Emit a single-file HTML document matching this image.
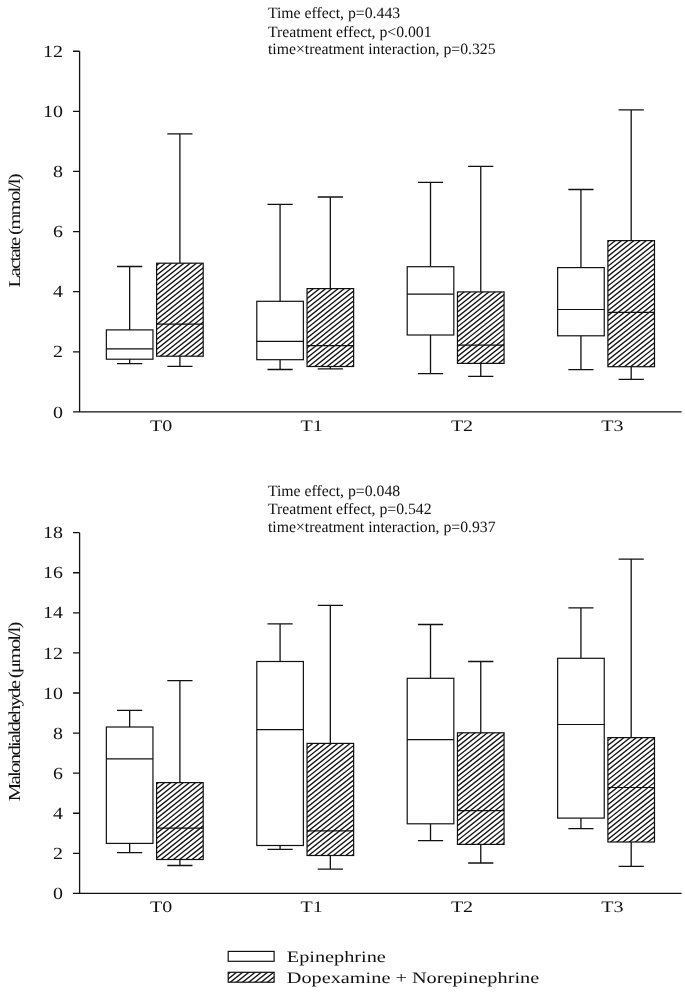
<!DOCTYPE html>
<html><head><meta charset="utf-8"><title>Figure</title>
<style>
html,body{margin:0;padding:0;background:#fff;}
svg{display:block;font-family:"Liberation Serif",serif;fill:#111;}
text{text-rendering:geometricPrecision;}
#t{opacity:0.999;}
</style></head><body>
<svg width="685" height="993" viewBox="0 0 685 993">
<rect width="685" height="993" fill="#fff"/>
<g id="t">
<path d="M79.6 51.23V411.95M73.0 411.95H681.6M73.0 351.83H79.6M73.0 291.71H79.6M73.0 231.59H79.6M73.0 171.47H79.6M73.0 111.35H79.6M73.0 51.23H79.6" stroke="#111" stroke-width="1.3" fill="none" stroke-linecap="butt"/>
<text transform="translate(63 417.55) scale(1.17 1)" font-size="17" text-anchor="end" >0</text>
<text transform="translate(63 357.43) scale(1.17 1)" font-size="17" text-anchor="end" >2</text>
<text transform="translate(63 297.31) scale(1.17 1)" font-size="17" text-anchor="end" >4</text>
<text transform="translate(63 237.19) scale(1.17 1)" font-size="17" text-anchor="end" >6</text>
<text transform="translate(63 177.07) scale(1.17 1)" font-size="17" text-anchor="end" >8</text>
<text transform="translate(63 116.95) scale(1.17 1)" font-size="17" text-anchor="end" >10</text>
<text transform="translate(63 56.83) scale(1.17 1)" font-size="17" text-anchor="end" >12</text>
<path d="M79.6 532.68V893.4M73.0 893.4H681.6M73.0 853.32H79.6M73.0 813.24H79.6M73.0 773.16H79.6M73.0 733.08H79.6M73.0 693H79.6M73.0 652.92H79.6M73.0 612.84H79.6M73.0 572.76H79.6M73.0 532.68H79.6" stroke="#111" stroke-width="1.3" fill="none" stroke-linecap="butt"/>
<text transform="translate(63 899) scale(1.17 1)" font-size="17" text-anchor="end" >0</text>
<text transform="translate(63 858.92) scale(1.17 1)" font-size="17" text-anchor="end" >2</text>
<text transform="translate(63 818.84) scale(1.17 1)" font-size="17" text-anchor="end" >4</text>
<text transform="translate(63 778.76) scale(1.17 1)" font-size="17" text-anchor="end" >6</text>
<text transform="translate(63 738.68) scale(1.17 1)" font-size="17" text-anchor="end" >8</text>
<text transform="translate(63 698.6) scale(1.17 1)" font-size="17" text-anchor="end" >10</text>
<text transform="translate(63 658.52) scale(1.17 1)" font-size="17" text-anchor="end" >12</text>
<text transform="translate(63 618.44) scale(1.17 1)" font-size="17" text-anchor="end" >14</text>
<text transform="translate(63 578.36) scale(1.17 1)" font-size="17" text-anchor="end" >16</text>
<text transform="translate(63 538.28) scale(1.17 1)" font-size="17" text-anchor="end" >18</text>
<path d="M129.65 266.5V329.9M129.65 359.2V363.6M117.05 266.5H142.25M117.05 363.6H142.25" stroke="#111" stroke-width="1.3" fill="none"/>
<rect x="106.35" y="329.9" width="46.6" height="29.3" fill="#fff" stroke="#111" stroke-width="1.2"/>
<path d="M106.35 348.8H152.95" stroke="#111" stroke-width="1.2" fill="none"/>
<path d="M179.9 133.9V263.2M179.9 356.2V366.3M167.3 133.9H192.5M167.3 366.3H192.5" stroke="#111" stroke-width="1.3" fill="none"/>
<rect x="156.6" y="263.2" width="46.6" height="93" fill="#fff"/><clipPath id="c1"><rect x="156.6" y="263.2" width="46.6" height="93"/></clipPath><path clip-path="url(#c1)" d="M155.6 261.19L204.2 222.45M155.6 266.13L204.2 227.39M155.6 271.07L204.2 232.33M155.6 276.01L204.2 237.27M155.6 280.95L204.2 242.21M155.6 285.89L204.2 247.15M155.6 290.83L204.2 252.09M155.6 295.77L204.2 257.03M155.6 300.71L204.2 261.97M155.6 305.65L204.2 266.91M155.6 310.59L204.2 271.85M155.6 315.53L204.2 276.79M155.6 320.47L204.2 281.73M155.6 325.41L204.2 286.67M155.6 330.35L204.2 291.61M155.6 335.29L204.2 296.55M155.6 340.23L204.2 301.49M155.6 345.17L204.2 306.43M155.6 350.11L204.2 311.37M155.6 355.05L204.2 316.31M155.6 359.99L204.2 321.25M155.6 364.93L204.2 326.19M155.6 369.87L204.2 331.13M155.6 374.81L204.2 336.07M155.6 379.75L204.2 341.01M155.6 384.69L204.2 345.95M155.6 389.63L204.2 350.89M155.6 394.57L204.2 355.83" stroke="#111" stroke-width="1.32" fill="none"/><rect x="156.6" y="263.2" width="46.6" height="93" fill="none" stroke="#111" stroke-width="1.2"/>
<path d="M156.6 324.2H203.2" stroke="#111" stroke-width="1.2" fill="none"/>
<path d="M129.65 710.4V727M129.65 843.4V852.6M117.05 710.4H142.25M117.05 852.6H142.25" stroke="#111" stroke-width="1.3" fill="none"/>
<rect x="106.35" y="727" width="46.6" height="116.4" fill="#fff" stroke="#111" stroke-width="1.2"/>
<path d="M106.35 758.8H152.95" stroke="#111" stroke-width="1.2" fill="none"/>
<path d="M179.9 680.6V782.6M179.9 859.5V865.5M167.3 680.6H192.5M167.3 865.5H192.5" stroke="#111" stroke-width="1.3" fill="none"/>
<rect x="156.6" y="782.6" width="46.6" height="76.9" fill="#fff"/><clipPath id="c2"><rect x="156.6" y="782.6" width="46.6" height="76.9"/></clipPath><path clip-path="url(#c2)" d="M155.6 779.89L204.2 741.15M155.6 784.83L204.2 746.09M155.6 789.77L204.2 751.03M155.6 794.71L204.2 755.97M155.6 799.65L204.2 760.91M155.6 804.59L204.2 765.85M155.6 809.53L204.2 770.79M155.6 814.47L204.2 775.73M155.6 819.41L204.2 780.67M155.6 824.35L204.2 785.61M155.6 829.29L204.2 790.55M155.6 834.23L204.2 795.49M155.6 839.17L204.2 800.43M155.6 844.11L204.2 805.37M155.6 849.05L204.2 810.31M155.6 853.99L204.2 815.25M155.6 858.93L204.2 820.19M155.6 863.87L204.2 825.13M155.6 868.81L204.2 830.07M155.6 873.75L204.2 835.01M155.6 878.69L204.2 839.95M155.6 883.63L204.2 844.89M155.6 888.57L204.2 849.83M155.6 893.51L204.2 854.77M155.6 898.45L204.2 859.71" stroke="#111" stroke-width="1.32" fill="none"/><rect x="156.6" y="782.6" width="46.6" height="76.9" fill="none" stroke="#111" stroke-width="1.2"/>
<path d="M156.6 828.2H203.2" stroke="#111" stroke-width="1.2" fill="none"/>
<text transform="translate(161.15 430.8) scale(1.25 1)" font-size="16" text-anchor="middle" >T0</text>
<text transform="translate(161.15 912.3) scale(1.25 1)" font-size="16" text-anchor="middle" >T0</text>
<path d="M280.08 204.3V301.3M280.08 359.7V369.5M267.48 204.3H292.68M267.48 369.5H292.68" stroke="#111" stroke-width="1.3" fill="none"/>
<rect x="256.78" y="301.3" width="46.6" height="58.4" fill="#fff" stroke="#111" stroke-width="1.2"/>
<path d="M256.78 341.3H303.38" stroke="#111" stroke-width="1.2" fill="none"/>
<path d="M330.33 197V288.6M330.33 366.5V368.9M317.73 197H342.93M317.73 368.9H342.93" stroke="#111" stroke-width="1.3" fill="none"/>
<rect x="307.03" y="288.6" width="46.6" height="77.9" fill="#fff"/><clipPath id="c3"><rect x="307.03" y="288.6" width="46.6" height="77.9"/></clipPath><path clip-path="url(#c3)" d="M306.03 284.55L354.63 245.82M306.03 289.49L354.63 250.76M306.03 294.43L354.63 255.7M306.03 299.37L354.63 260.64M306.03 304.31L354.63 265.58M306.03 309.25L354.63 270.52M306.03 314.19L354.63 275.46M306.03 319.13L354.63 280.4M306.03 324.07L354.63 285.34M306.03 329.01L354.63 290.28M306.03 333.95L354.63 295.22M306.03 338.89L354.63 300.16M306.03 343.83L354.63 305.1M306.03 348.77L354.63 310.04M306.03 353.71L354.63 314.98M306.03 358.65L354.63 319.92M306.03 363.59L354.63 324.86M306.03 368.53L354.63 329.8M306.03 373.47L354.63 334.74M306.03 378.41L354.63 339.68M306.03 383.35L354.63 344.62M306.03 388.29L354.63 349.56M306.03 393.23L354.63 354.5M306.03 398.17L354.63 359.44M306.03 403.11L354.63 364.38M306.03 408.05L354.63 369.32" stroke="#111" stroke-width="1.32" fill="none"/><rect x="307.03" y="288.6" width="46.6" height="77.9" fill="none" stroke="#111" stroke-width="1.2"/>
<path d="M307.03 345.6H353.63" stroke="#111" stroke-width="1.2" fill="none"/>
<path d="M280.08 623.9V661.5M280.08 845.5V849.3M267.48 623.9H292.68M267.48 849.3H292.68" stroke="#111" stroke-width="1.3" fill="none"/>
<rect x="256.78" y="661.5" width="46.6" height="184" fill="#fff" stroke="#111" stroke-width="1.2"/>
<path d="M256.78 729.6H303.38" stroke="#111" stroke-width="1.2" fill="none"/>
<path d="M330.33 605.3V743.4M330.33 855.5V869.2M317.73 605.3H342.93M317.73 869.2H342.93" stroke="#111" stroke-width="1.3" fill="none"/>
<rect x="307.03" y="743.4" width="46.6" height="112.1" fill="#fff"/><clipPath id="c4"><rect x="307.03" y="743.4" width="46.6" height="112.1"/></clipPath><path clip-path="url(#c4)" d="M306.03 743.97L354.63 705.24M306.03 748.91L354.63 710.18M306.03 753.85L354.63 715.12M306.03 758.79L354.63 720.06M306.03 763.73L354.63 725M306.03 768.67L354.63 729.94M306.03 773.61L354.63 734.88M306.03 778.55L354.63 739.82M306.03 783.49L354.63 744.76M306.03 788.43L354.63 749.7M306.03 793.37L354.63 754.64M306.03 798.31L354.63 759.58M306.03 803.25L354.63 764.52M306.03 808.19L354.63 769.46M306.03 813.13L354.63 774.4M306.03 818.07L354.63 779.34M306.03 823.01L354.63 784.28M306.03 827.95L354.63 789.22M306.03 832.89L354.63 794.16M306.03 837.83L354.63 799.1M306.03 842.77L354.63 804.04M306.03 847.71L354.63 808.98M306.03 852.65L354.63 813.92M306.03 857.59L354.63 818.86M306.03 862.53L354.63 823.8M306.03 867.47L354.63 828.74M306.03 872.41L354.63 833.68M306.03 877.35L354.63 838.62M306.03 882.29L354.63 843.56M306.03 887.23L354.63 848.5M306.03 892.17L354.63 853.44M306.03 897.11L354.63 858.38" stroke="#111" stroke-width="1.32" fill="none"/><rect x="307.03" y="743.4" width="46.6" height="112.1" fill="none" stroke="#111" stroke-width="1.2"/>
<path d="M307.03 830.9H353.63" stroke="#111" stroke-width="1.2" fill="none"/>
<text transform="translate(311.58 430.8) scale(1.25 1)" font-size="16" text-anchor="middle" >T1</text>
<text transform="translate(311.58 912.3) scale(1.25 1)" font-size="16" text-anchor="middle" >T1</text>
<path d="M430.51 182.3V266.7M430.51 335V373.6M417.91 182.3H443.11M417.91 373.6H443.11" stroke="#111" stroke-width="1.3" fill="none"/>
<rect x="407.21" y="266.7" width="46.6" height="68.3" fill="#fff" stroke="#111" stroke-width="1.2"/>
<path d="M407.21 294.1H453.81" stroke="#111" stroke-width="1.2" fill="none"/>
<path d="M480.76 166.3V291.9M480.76 363.4V376.3M468.16 166.3H493.36M468.16 376.3H493.36" stroke="#111" stroke-width="1.3" fill="none"/>
<rect x="457.46" y="291.9" width="46.6" height="71.5" fill="#fff"/><clipPath id="c5"><rect x="457.46" y="291.9" width="46.6" height="71.5"/></clipPath><path clip-path="url(#c5)" d="M456.46 288.16L505.06 249.43M456.46 293.1L505.06 254.37M456.46 298.04L505.06 259.31M456.46 302.98L505.06 264.25M456.46 307.92L505.06 269.19M456.46 312.86L505.06 274.13M456.46 317.8L505.06 279.07M456.46 322.74L505.06 284.01M456.46 327.68L505.06 288.95M456.46 332.62L505.06 293.89M456.46 337.56L505.06 298.83M456.46 342.5L505.06 303.77M456.46 347.44L505.06 308.71M456.46 352.38L505.06 313.65M456.46 357.32L505.06 318.59M456.46 362.26L505.06 323.53M456.46 367.2L505.06 328.47M456.46 372.14L505.06 333.41M456.46 377.08L505.06 338.35M456.46 382.02L505.06 343.29M456.46 386.96L505.06 348.23M456.46 391.9L505.06 353.17M456.46 396.84L505.06 358.11M456.46 401.78L505.06 363.05" stroke="#111" stroke-width="1.32" fill="none"/><rect x="457.46" y="291.9" width="46.6" height="71.5" fill="none" stroke="#111" stroke-width="1.2"/>
<path d="M457.46 345.2H504.06" stroke="#111" stroke-width="1.2" fill="none"/>
<path d="M430.51 624.5V678.3M430.51 823.8V840.6M417.91 624.5H443.11M417.91 840.6H443.11" stroke="#111" stroke-width="1.3" fill="none"/>
<rect x="407.21" y="678.3" width="46.6" height="145.5" fill="#fff" stroke="#111" stroke-width="1.2"/>
<path d="M407.21 739.6H453.81" stroke="#111" stroke-width="1.2" fill="none"/>
<path d="M480.76 661.5V732.8M480.76 844.4V863M468.16 661.5H493.36M468.16 863H493.36" stroke="#111" stroke-width="1.3" fill="none"/>
<rect x="457.46" y="732.8" width="46.6" height="111.6" fill="#fff"/><clipPath id="c6"><rect x="457.46" y="732.8" width="46.6" height="111.6"/></clipPath><path clip-path="url(#c6)" d="M456.46 732.76L505.06 694.03M456.46 737.7L505.06 698.97M456.46 742.64L505.06 703.91M456.46 747.58L505.06 708.85M456.46 752.52L505.06 713.79M456.46 757.46L505.06 718.73M456.46 762.4L505.06 723.67M456.46 767.34L505.06 728.61M456.46 772.28L505.06 733.55M456.46 777.22L505.06 738.49M456.46 782.16L505.06 743.43M456.46 787.1L505.06 748.37M456.46 792.04L505.06 753.31M456.46 796.98L505.06 758.25M456.46 801.92L505.06 763.19M456.46 806.86L505.06 768.13M456.46 811.8L505.06 773.07M456.46 816.74L505.06 778.01M456.46 821.68L505.06 782.95M456.46 826.62L505.06 787.89M456.46 831.56L505.06 792.83M456.46 836.5L505.06 797.77M456.46 841.44L505.06 802.71M456.46 846.38L505.06 807.65M456.46 851.32L505.06 812.59M456.46 856.26L505.06 817.53M456.46 861.2L505.06 822.47M456.46 866.14L505.06 827.41M456.46 871.08L505.06 832.35M456.46 876.02L505.06 837.29M456.46 880.96L505.06 842.23M456.46 885.9L505.06 847.17" stroke="#111" stroke-width="1.32" fill="none"/><rect x="457.46" y="732.8" width="46.6" height="111.6" fill="none" stroke="#111" stroke-width="1.2"/>
<path d="M457.46 810.7H504.06" stroke="#111" stroke-width="1.2" fill="none"/>
<text transform="translate(462.01 430.8) scale(1.25 1)" font-size="16" text-anchor="middle" >T2</text>
<text transform="translate(462.01 912.3) scale(1.25 1)" font-size="16" text-anchor="middle" >T2</text>
<path d="M580.94 189.5V267.6M580.94 335.8V369.6M568.34 189.5H593.54M568.34 369.6H593.54" stroke="#111" stroke-width="1.3" fill="none"/>
<rect x="557.64" y="267.6" width="46.6" height="68.2" fill="#fff" stroke="#111" stroke-width="1.2"/>
<path d="M557.64 309.5H604.24" stroke="#111" stroke-width="1.2" fill="none"/>
<path d="M631.19 109.8V240.6M631.19 366.7V379.4M618.59 109.8H643.79M618.59 379.4H643.79" stroke="#111" stroke-width="1.3" fill="none"/>
<rect x="607.89" y="240.6" width="46.6" height="126.1" fill="#fff"/><clipPath id="c7"><rect x="607.89" y="240.6" width="46.6" height="126.1"/></clipPath><path clip-path="url(#c7)" d="M606.89 237.43L655.49 198.69M606.89 242.37L655.49 203.63M606.89 247.31L655.49 208.57M606.89 252.25L655.49 213.51M606.89 257.19L655.49 218.45M606.89 262.13L655.49 223.39M606.89 267.07L655.49 228.33M606.89 272.01L655.49 233.27M606.89 276.95L655.49 238.21M606.89 281.89L655.49 243.15M606.89 286.83L655.49 248.09M606.89 291.77L655.49 253.03M606.89 296.71L655.49 257.97M606.89 301.65L655.49 262.91M606.89 306.59L655.49 267.85M606.89 311.53L655.49 272.79M606.89 316.47L655.49 277.73M606.89 321.41L655.49 282.67M606.89 326.35L655.49 287.61M606.89 331.29L655.49 292.55M606.89 336.23L655.49 297.49M606.89 341.17L655.49 302.43M606.89 346.11L655.49 307.37M606.89 351.05L655.49 312.31M606.89 355.99L655.49 317.25M606.89 360.93L655.49 322.19M606.89 365.87L655.49 327.13M606.89 370.81L655.49 332.07M606.89 375.75L655.49 337.01M606.89 380.69L655.49 341.95M606.89 385.63L655.49 346.89M606.89 390.57L655.49 351.83M606.89 395.51L655.49 356.77M606.89 400.45L655.49 361.71M606.89 405.39L655.49 366.65" stroke="#111" stroke-width="1.32" fill="none"/><rect x="607.89" y="240.6" width="46.6" height="126.1" fill="none" stroke="#111" stroke-width="1.2"/>
<path d="M607.89 312.3H654.49" stroke="#111" stroke-width="1.2" fill="none"/>
<path d="M580.94 607.9V658.3M580.94 818.1V828.6M568.34 607.9H593.54M568.34 828.6H593.54" stroke="#111" stroke-width="1.3" fill="none"/>
<rect x="557.64" y="658.3" width="46.6" height="159.8" fill="#fff" stroke="#111" stroke-width="1.2"/>
<path d="M557.64 724.5H604.24" stroke="#111" stroke-width="1.2" fill="none"/>
<path d="M631.19 559.2V737.6M631.19 842V866.4M618.59 559.2H643.79M618.59 866.4H643.79" stroke="#111" stroke-width="1.3" fill="none"/>
<rect x="607.89" y="737.6" width="46.6" height="104.4" fill="#fff"/><clipPath id="c8"><rect x="607.89" y="737.6" width="46.6" height="104.4"/></clipPath><path clip-path="url(#c8)" d="M606.89 736.37L655.49 697.63M606.89 741.31L655.49 702.57M606.89 746.25L655.49 707.51M606.89 751.19L655.49 712.45M606.89 756.13L655.49 717.39M606.89 761.07L655.49 722.33M606.89 766.01L655.49 727.27M606.89 770.95L655.49 732.21M606.89 775.89L655.49 737.15M606.89 780.83L655.49 742.09M606.89 785.77L655.49 747.03M606.89 790.71L655.49 751.97M606.89 795.65L655.49 756.91M606.89 800.59L655.49 761.85M606.89 805.53L655.49 766.79M606.89 810.47L655.49 771.73M606.89 815.41L655.49 776.67M606.89 820.35L655.49 781.61M606.89 825.29L655.49 786.55M606.89 830.23L655.49 791.49M606.89 835.17L655.49 796.43M606.89 840.11L655.49 801.37M606.89 845.05L655.49 806.31M606.89 849.99L655.49 811.25M606.89 854.93L655.49 816.19M606.89 859.87L655.49 821.13M606.89 864.81L655.49 826.07M606.89 869.75L655.49 831.01M606.89 874.69L655.49 835.95M606.89 879.63L655.49 840.89M606.89 884.57L655.49 845.83" stroke="#111" stroke-width="1.32" fill="none"/><rect x="607.89" y="737.6" width="46.6" height="104.4" fill="none" stroke="#111" stroke-width="1.2"/>
<path d="M607.89 787.5H654.49" stroke="#111" stroke-width="1.2" fill="none"/>
<text transform="translate(612.44 430.8) scale(1.25 1)" font-size="16" text-anchor="middle" >T3</text>
<text transform="translate(612.44 912.3) scale(1.25 1)" font-size="16" text-anchor="middle" >T3</text>
<text transform="translate(267.9 18.1) scale(1.0 1)" font-size="15.76" text-anchor="start" >Time effect, p=0.443</text>
<text transform="translate(267.9 36.8) scale(1.0 1)" font-size="15.76" text-anchor="start" >Treatment effect, p&lt;0.001</text>
<text transform="translate(267.9 54.4) scale(1.0 1)" font-size="15.76" text-anchor="start" >time×treatment interaction, p=0.325</text>
<text transform="translate(267.9 496.2) scale(1.0 1)" font-size="15.76" text-anchor="start" >Time effect, p=0.048</text>
<text transform="translate(267.9 514.4) scale(1.0 1)" font-size="15.76" text-anchor="start" >Treatment effect, p=0.542</text>
<text transform="translate(267.9 532.2) scale(1.0 1)" font-size="15.76" text-anchor="start" >time×treatment interaction, p=0.937</text>
<text transform="translate(20.1 287.5) rotate(-90) scale(1.25 1)" font-size="16.6" textLength="91.36" lengthAdjust="spacing">Lactate (mmol/l)</text>
<text transform="translate(20.1 801.2) rotate(-90) scale(1.25 1)" font-size="16.8" textLength="143.68" lengthAdjust="spacing">Malondialdehyde (μmol/l)</text>
<rect x="228.2" y="951.4" width="45.9" height="9.9" fill="#fff" stroke="#111" stroke-width="1.2"/>
<rect x="228.2" y="972.3" width="45.9" height="9.9" fill="#fff"/><clipPath id="c9"><rect x="228.2" y="972.3" width="45.9" height="9.9"/></clipPath><path clip-path="url(#c9)" d="M227.2 969.82L275.1 931.65M227.2 974.76L275.1 936.59M227.2 979.7L275.1 941.53M227.2 984.64L275.1 946.47M227.2 989.58L275.1 951.41M227.2 994.52L275.1 956.35M227.2 999.46L275.1 961.29M227.2 1004.4L275.1 966.23M227.2 1009.34L275.1 971.17M227.2 1014.28L275.1 976.11M227.2 1019.22L275.1 981.05M227.2 1024.16L275.1 985.99" stroke="#111" stroke-width="1.32" fill="none"/><rect x="228.2" y="972.3" width="45.9" height="9.9" fill="none" stroke="#111" stroke-width="1.2"/>
<text transform="translate(286.8 961.8) scale(1.266 1)" font-size="16" text-anchor="start" >Epinephrine</text>
<text transform="translate(286.8 982.7) scale(1.267 1)" font-size="16" text-anchor="start" >Dopexamine + Norepinephrine</text>
</g>
</svg></body></html>
